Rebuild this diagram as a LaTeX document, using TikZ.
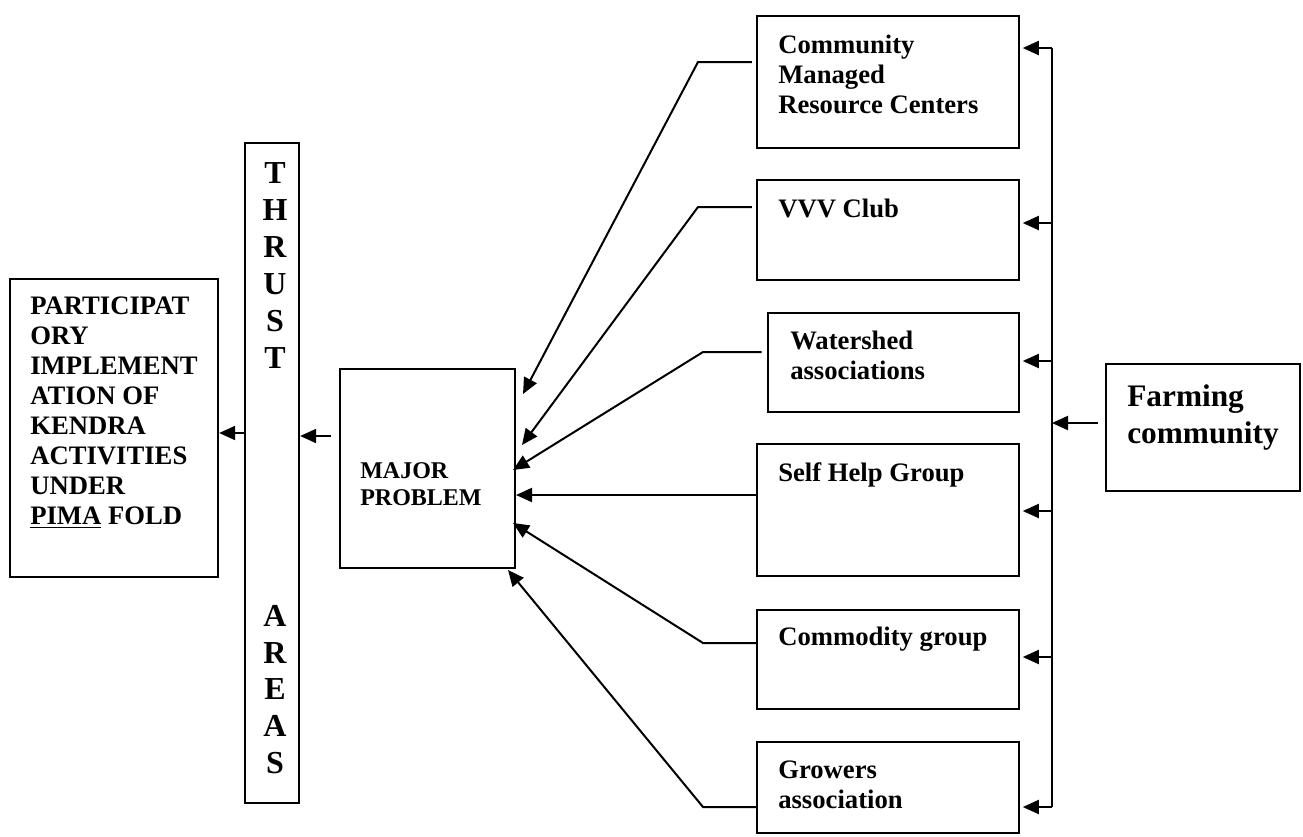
\documentclass[tikz,border=0pt]{standalone}
\usepackage{fontspec}
\setmainfont{Liberation Serif}
\usetikzlibrary{arrows.meta,fit}
\begin{document}
\begin{tikzpicture}[x=0.75pt,y=-0.75pt,
  box/.style={draw,line width=1.7pt,inner sep=0pt},
  txt/.style={anchor=north west,inner sep=0pt,align=left,font=\fontsize{20pt}{22.5pt}\selectfont\bfseries},
  conn/.style={line width=1.5pt},
  arr/.style={conn,-{Triangle[length=12pt,width=10.5pt]}}]
\useasboundingbox (0,0) rectangle (1303,836);

% boxes
\node[box,fit={(10,279)(218,577)}] (goal) {};
\node[box,fit={(245,143)(299,803)}] (thrust) {};
\node[box,fit={(340,369)(515,568)}] (major) {};
\node[box,fit={(757,16)(1019,148)}] (cmrc) {};
\node[box,fit={(757,180)(1019,280)}] (vvv) {};
\node[box,fit={(768,313)(1019,412)}] (water) {};
\node[box,fit={(757,444)(1019,576)}] (shg) {};
\node[box,fit={(757,610)(1019,709)}] (comm) {};
\node[box,fit={(757,742)(1019,833)}] (grow) {};
\node[box,fit={(1106,364)(1300,491)}] (farm) {};

% texts
\node[txt] (tgoal) at (30,297) {PARTICIPAT\\ORY\\IMPLEMENT\\ATION OF\\KENDRA\\ACTIVITIES\\UNDER\\\underline{PIMA} FOLD};
\node[anchor=north,inner sep=0pt,align=center,font=\fontsize{24pt}{27.75pt}\selectfont\bfseries] (tthrust) at (275,162) {T\\H\\R\\U\\S\\T};
\node[anchor=north,inner sep=0pt,align=center,font=\fontsize{24pt}{27.5pt}\selectfont\bfseries] (tareas) at (275,605) {A\\R\\E\\A\\S};
\node[txt,font=\fontsize{18pt}{20.25pt}\selectfont\bfseries] (tmajor) at (360,462) {MAJOR\\PROBLEM};
\node[txt] (tcmrc) at (778,35) {Community\\Managed\\Resource Centers};
\node[txt] (tvvv) at (778,199) {VVV Club};
\node[txt] (twater) at (790,331) {Watershed\\associations};
\node[txt] (tshg) at (778,462) {Self Help Group};
\node[txt] (tcomm) at (778,627) {Commodity group};
\node[txt] (tgrow) at (778,761) {Growers\\association};
\node[txt,font=\fontsize{23.5pt}{27.75pt}\selectfont\bfseries] (tfarm) at (1127,384) {Farming\\community};

% left arrows
\coordinate (p1) at (245,433);
\draw[arr] (p1) -- (goal.east |- p1);
\coordinate (p2) at (331,436);
\draw[arr] (p2) -- (thrust.east |- p2);

% arrows into major problem
\coordinate (k1) at (698,62);  \coordinate (e1) at (523,394);
\coordinate (k2) at (698,207); \coordinate (e2) at (522,445);
\coordinate (k3) at (703,352); \coordinate (e3) at (513,470);
\coordinate (k4) at (755,495); \coordinate (e4) at (516,495);
\coordinate (k5) at (703,643); \coordinate (e5) at (513,523);
\coordinate (k6) at (703,807); \coordinate (e6) at (508,570);
\draw[arr] ([xshift=-3pt]cmrc.west |- k1) -- (k1) -- (e1);
\draw[arr] ([xshift=-3pt]vvv.west |- k2) -- (k2) -- (e2);
\draw[arr] ([xshift=-4pt]water.west |- k3) -- (k3) -- (e3);
\draw[arr] (shg.west |- k4) -- (e4);
\draw[arr] (comm.west |- k5) -- (k5) -- (e5);
\draw[arr] (grow.west |- k6) -- (k6) -- (e6);

% right bus
\coordinate (b1) at (1052,48);
\coordinate (b2) at (1052,223);
\coordinate (b3) at (1052,361);
\coordinate (b4) at (1052,511);
\coordinate (b5) at (1052,657);
\coordinate (b6) at (1052,807);
\draw[conn] (b1) -- (b6);
\draw[arr] (b1) -- ([xshift=2pt]cmrc.east |- b1);
\draw[arr] (b2) -- ([xshift=2pt]vvv.east |- b2);
\draw[arr] (b3) -- ([xshift=2pt]water.east |- b3);
\draw[arr] (b4) -- ([xshift=2pt]shg.east |- b4);
\draw[arr] (b5) -- ([xshift=2pt]comm.east |- b5);
\draw[arr] (b6) -- ([xshift=2pt]grow.east |- b6);
\coordinate (f1) at (1052,423);
\draw[arr] ([xshift=-5pt]farm.west |- f1) -- (f1);
\end{tikzpicture}
\end{document}
